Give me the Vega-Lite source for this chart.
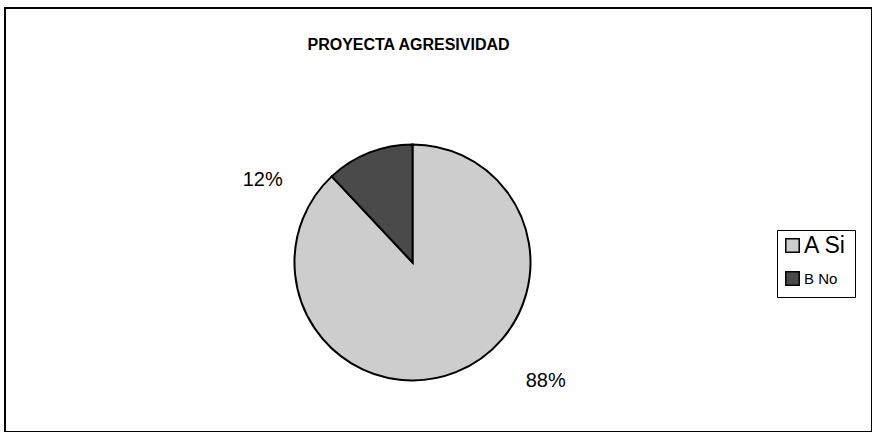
{
  "$schema": "https://vega.github.io/schema/vega-lite/v6.json",
  "width": 872,
  "height": 432,
  "autosize": {"type": "fit", "contains": "padding"},
  "padding": {"left": 5, "top": 8, "right": 0, "bottom": 0},
  "background": "white",
  "view": {"stroke": "black", "strokeWidth": 2, "fill": "white"},
  "config": {"font": "Liberation Sans"},
  "title": {"text": "PROYECTA AGRESIVIDAD", "fontSize": 16, "fontWeight": "bold", "font": "Liberation Sans", "anchor": "middle", "offset": -45, "color": "black", "dx": -30},
  "data": {"values": [
    {"categoria": "A Si", "porcentaje": 88, "etiqueta": "88%", "orden": 1},
    {"categoria": "B No", "porcentaje": 12, "etiqueta": "12%", "orden": 2}
  ]},
  "encoding": {
    "theta": {"field": "porcentaje", "type": "quantitative", "stack": true},
    "order": {"field": "orden", "type": "quantitative"}
  },
  "layer": [
    {
      "mark": {"type": "arc", "outerRadius": 118, "stroke": "black", "strokeWidth": 2, "x": {"expr": "width*0.47"}, "y": {"expr": "height*0.6"}},
      "encoding": {
        "color": {"field": "categoria", "type": "nominal",
          "scale": {"domain": ["A Si", "B No"], "range": ["#cdcdcd", "#4a4a4a"]},
          "legend": {"title": null, "orient": "none", "legendX": 772, "legendY": 222,
            "strokeColor": "black", "padding": 8, "symbolType": "square", "symbolSize": 180,
            "symbolStrokeColor": "black", "symbolStrokeWidth": 1.5, "labelFontSize": 16, "labelColor": "black",
            "rowPadding": 10, "labelLimit": 200,
            "encode": {"labels": {"update": {"fontSize": {"signal": "datum.value == 'A Si' ? 23 : 15"}}}}}
        }
      }
    },
    {
      "transform": [{"filter": "datum.categoria == 'B No'"}],
      "mark": {"type": "text", "radius": 150, "fontSize": 20, "color": "black", "dx": -205, "dy": 57, "x": {"expr": "width*0.47"}, "y": {"expr": "height*0.6"}},
      "encoding": {"text": {"field": "etiqueta"}}
    },
    {
      "transform": [{"filter": "datum.categoria == 'A Si'"}],
      "mark": {"type": "text", "radius": 150, "fontSize": 20, "color": "black", "dx": 78, "dy": -21, "x": {"expr": "width*0.47"}, "y": {"expr": "height*0.6"}},
      "encoding": {"text": {"field": "etiqueta"}}
    }
  ]
}
